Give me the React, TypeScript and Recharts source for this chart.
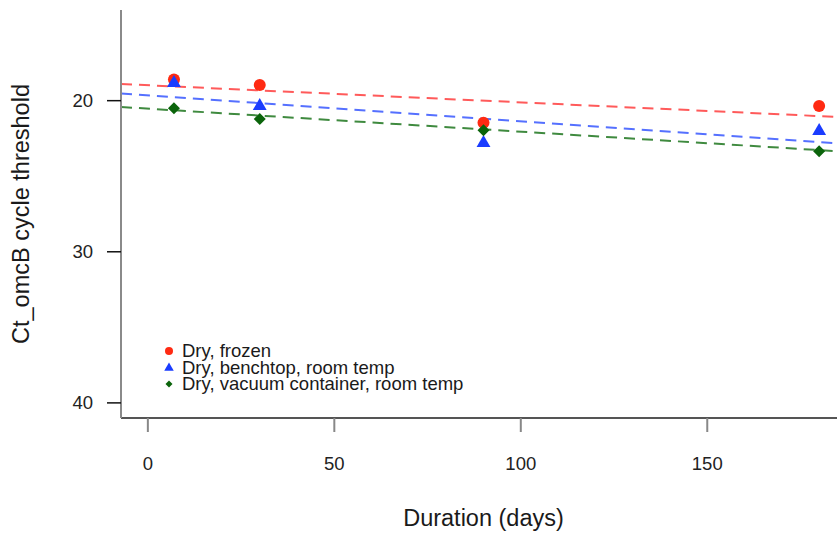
import React from 'react';
import { ComposedChart, Scatter, Line, XAxis, YAxis, Legend } from 'recharts';

// days of storage
const days = [7, 30, 90, 180];

// Ct values
const frozenCt = [18.6, 18.97, 21.46, 20.36];
const benchtopCt = [18.83, 20.36, 22.8, 22.0];
const vacuumCt = [20.51, 21.22, 21.95, 23.34];

// fitted trend lines, values at the two ends of the x range
const fitDays = [-7.2, 187.2];
const frozenFit = [18.9, 21.1];
const benchtopFit = [19.52, 22.87];
const vacuumFit = [20.42, 23.38];

const xTicks = [0, 50, 100, 150];
const yTicks = [20, 30, 40];

const seriesNames = [
  'Dry, frozen',
  'Dry, benchtop, room temp',
  'Dry, vacuum container, room temp',
];

const toPoints = (ys: number[]) => days.map((d, i) => ({ day: d, ct: ys[i] }));
const toFit = (ys: number[]) => fitDays.map((d, i) => ({ day: d, ct: ys[i] }));

const RED = '#ff2a12';
const BLUE = '#1a3cff';
const GREEN = '#0b640b';

const FONT = '"Liberation Sans", Arial, Helvetica, sans-serif';

const Circle = ({ cx, cy, r = 6, fill }: any) => <circle cx={cx} cy={cy} r={r} fill={fill} />;

const Triangle = ({ cx, cy, r = 8, fill }: any) => {
  const h = r * 0.866;
  return <polygon points={`${cx},${cy - r} ${cx - h},${cy + r / 2} ${cx + h},${cy + r / 2}`} fill={fill} />;
};

const Diamond = ({ cx, cy, r = 6, fill }: any) => (
  <polygon points={`${cx},${cy - r} ${cx + r},${cy} ${cx},${cy + r} ${cx - r},${cy}`} fill={fill} />
);

const renderLegend = () => (
  <svg width={330} height={62} style={{ display: 'block', overflow: 'visible' }}>
    <Circle cx={9} cy={15} r={4} fill={RED} />
    <Triangle cx={9} cy={32} r={5.5} fill={BLUE} />
    <Diamond cx={9} cy={48} r={3.5} fill={GREEN} />
    {seriesNames.map((name, i) => (
      <text key={name} x={22} y={21 + i * 16.5} fontSize={18.5} fontFamily={FONT} fill="#1a1a1a">
        {name}
      </text>
    ))}
  </svg>
);

export default function App() {
  return (
    <div style={{ position: 'absolute', left: 0, top: 0, width: 837, height: 533, overflow: 'hidden', background: '#fff' }}>
      <ComposedChart width={846} height={533} margin={{ top: 10, right: 0, bottom: 0, left: 0 }}>
        <XAxis
          type="number"
          dataKey="day"
          domain={[-7.2, 187.2]}
          ticks={xTicks}
          allowDataOverflow
          height={115}
          tickSize={14}
          tickMargin={25}
          axisLine={{ stroke: '#555', strokeWidth: 2 }}
          tickLine={{ stroke: '#888', strokeWidth: 2 }}
          tick={{ fontSize: 18.5, fontFamily: FONT, fill: '#222' }}
          label={{ value: 'Duration (days)', position: 'insideBottom', offset: 7, fontSize: 23.5, fontFamily: FONT, fill: '#1a1a1a' }}
        />
        <YAxis
          type="number"
          dataKey="ct"
          reversed
          domain={[14, 41]}
          ticks={yTicks}
          allowDataOverflow
          width={121}
          tickSize={14}
          tickMargin={14}
          axisLine={{ stroke: '#8a8a8a', strokeWidth: 2 }}
          tickLine={{ stroke: '#111', strokeWidth: 1.5 }}
          tick={{ fontSize: 18.5, fontFamily: FONT, fill: '#222' }}
          label={{
            value: 'Ct_omcB cycle threshold',
            angle: -90,
            position: 'insideLeft',
            offset: 21,
            fontSize: 23.5,
            fontFamily: FONT,
            fill: '#1a1a1a',
            style: { textAnchor: 'middle' },
          }}
        />
        <Line data={toFit(frozenFit)} dataKey="ct" stroke="#ff5a5a" strokeWidth={2} strokeDasharray="11 7" dot={false} activeDot={false} isAnimationActive={false} legendType="none" />
        <Line data={toFit(benchtopFit)} dataKey="ct" stroke="#5570ff" strokeWidth={2} strokeDasharray="11 7" dot={false} activeDot={false} isAnimationActive={false} legendType="none" />
        <Line data={toFit(vacuumFit)} dataKey="ct" stroke="#3f8a3f" strokeWidth={2} strokeDasharray="11 7" dot={false} activeDot={false} isAnimationActive={false} legendType="none" />
        <Scatter name={seriesNames[0]} data={toPoints(frozenCt)} fill={RED} shape={(p: any) => <Circle cx={p.cx} cy={p.cy} fill={RED} />} isAnimationActive={false} />
        <Scatter name={seriesNames[1]} data={toPoints(benchtopCt)} fill={BLUE} shape={(p: any) => <Triangle cx={p.cx} cy={p.cy} fill={BLUE} />} isAnimationActive={false} />
        <Scatter name={seriesNames[2]} data={toPoints(vacuumCt)} fill={GREEN} shape={(p: any) => <Diamond cx={p.cx} cy={p.cy} fill={GREEN} />} isAnimationActive={false} />
        <Legend
          layout="vertical"
          align="center"
          verticalAlign="middle"
          content={renderLegend}
          wrapperStyle={{ left: 160, top: 336, width: 330, height: 62 }}
        />
      </ComposedChart>
    </div>
  );
}
